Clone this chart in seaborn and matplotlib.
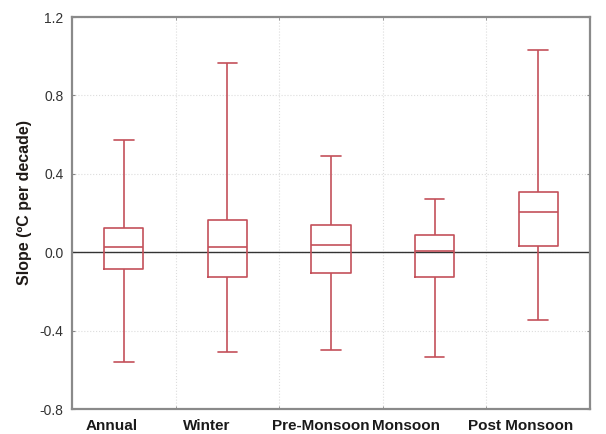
import matplotlib
matplotlib.use("Agg")
import matplotlib.pyplot as plt
import numpy as np
import pandas as pd
import seaborn as sns
from matplotlib.ticker import FixedLocator

# categorias e resumo de cada caixa: min, Q1, mediana, Q3, max
categorias = ["Annual", "Winter", "Pre-Monsoon", "Monsoon", "Post Monsoon"]
minimos = [-0.559, -0.509, -0.500, -0.535, -0.346]
q1 = [-0.086, -0.128, -0.106, -0.128, 0.033]
medianas = [0.025, 0.025, 0.038, 0.006, 0.204]
q3 = [0.122, 0.166, 0.137, 0.086, 0.309]
maximos = [0.571, 0.966, 0.491, 0.273, 1.030]

y_ticks = [-0.8, -0.4, 0.0, 0.4, 0.8, 1.2]

# 5 valores por categoria -> percentis 25/50/75 caem exatamente em Q1/mediana/Q3
linhas = []
for i, cat in enumerate(categorias):
    for v in (minimos[i], q1[i], medianas[i], q3[i], maximos[i]):
        linhas.append({"categoria": cat, "slope": v})
df = pd.DataFrame(linhas)

sns.set_style("white")
plt.rcParams["font.family"] = ["Liberation Sans", "DejaVu Sans"]

cor = "#c4505a"
fig = plt.figure(figsize=(6.06, 4.34), dpi=100)
ax = fig.add_axes([0.1188, 0.0576, 0.8548, 0.9032])

sns.boxplot(data=df, x="categoria", y="slope", order=categorias, whis=(0, 100),
            width=0.38, fill=False, color=cor, linewidth=1.2, showfliers=False,
            medianprops={"color": cor}, ax=ax)

ax.axhline(0, color="#333333", linewidth=1.0, zorder=1)

ax.set_xlim(-0.5, len(categorias) - 0.5)
ax.set_ylim(-0.8, 1.2)
ax.set_yticks(y_ticks)
ax.set_yticklabels([f"{t:.1f}" for t in y_ticks], fontsize=10, color="#333333")

# rótulos do eixo x ficam um pouco deslocados para a esquerda no original
# (deslocamento em px, ~103.6 px por categoria)
desloc_px = [-12, -21, -10, -29, -18]
ax.set_xticks([i + dx / 103.6 for i, dx in enumerate(desloc_px)])
ax.set_xticklabels(categorias, fontsize=11, fontweight="bold", color="#1a1a1a")
ax.xaxis.set_minor_locator(FixedLocator([0.5, 1.5, 2.5, 3.5]))

ax.grid(False)
ax.grid(axis="y", which="major", color="#dddddd", linestyle=":", linewidth=0.8)
ax.grid(axis="x", which="minor", color="#dddddd", linestyle=":", linewidth=0.8)
ax.set_axisbelow(True)

ax.tick_params(axis="x", which="major", length=0, pad=7)
ax.tick_params(axis="x", which="minor", length=2, direction="in", top=True, bottom=True, color="#888888")
ax.tick_params(axis="y", which="major", length=2, direction="in", left=True, right=True,
               color="#888888", pad=6)

for s in ax.spines.values():
    s.set_color("#8a8a8a")
    s.set_linewidth(1.6)

ax.set_xlabel("")
ax.set_ylabel("Slope (ºC per decade)", fontsize=11.5, fontweight="bold", color="#1f1a17")
ax.yaxis.set_label_coords(-0.077, 0.528)

fig.savefig("out.png", dpi=100)
